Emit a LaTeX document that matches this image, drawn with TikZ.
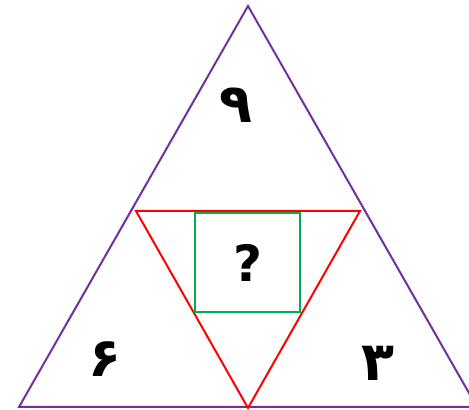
\documentclass[tikz,border=0pt]{standalone}
\usepackage{fontspec}
\newfontfamily\arabicfont[Script=Arabic]{DejaVu Sans}
\setmainfont{DejaVu Sans}
\usepackage{xcolor}
\definecolor{outerpurple}{HTML}{7030A0}
\definecolor{boxgreen}{HTML}{00B050}
\usetikzlibrary{positioning}

\begin{document}
\begin{tikzpicture}[
  x=1pt, y=1pt,
  outer/.style  ={draw=outerpurple, line width=2pt, line join=miter},
  inner/.style  ={draw=red, line width=2pt, line join=miter},
  qbox/.style   ={draw=boxgreen, line width=2pt},
  digit/.style  ={font=\arabicfont\bfseries\fontsize{54}{54}\selectfont, inner sep=0pt},
  quest/.style  ={font=\bfseries\fontsize{50}{50}\selectfont, inner sep=0pt}
]
\useasboundingbox (0,0) rectangle (469,410);
\clip (0,0) rectangle (469,410);

% ---------- Outer triangle ----------
\coordinate (top)   at (248,404);
\coordinate (left)  at (19,3);
\coordinate (right) at (477,3);
\draw[outer] (top) -- (left) -- (right) -- cycle;

% ---------- Inner triangle ----------
\coordinate (il) at (136,199);
\coordinate (ir) at (360,199);
\coordinate (ib) at (248,2);
\draw[inner] (il) -- (ir) -- (ib) -- cycle;

% ---------- Square with question mark ----------
\node[qbox, minimum width=105pt, minimum height=99pt, inner sep=0pt] (sq) at (247.5,147.5) {};
\node[quest] (q) at (248,147) {?};

% ---------- Digits ----------
\node[digit] (nine) at (236,305) {۹};
\node[digit] (six)  at (105,51)  {۶};
\node[digit] (three) at (378,47) {۳};

\end{tikzpicture}
\end{document}
